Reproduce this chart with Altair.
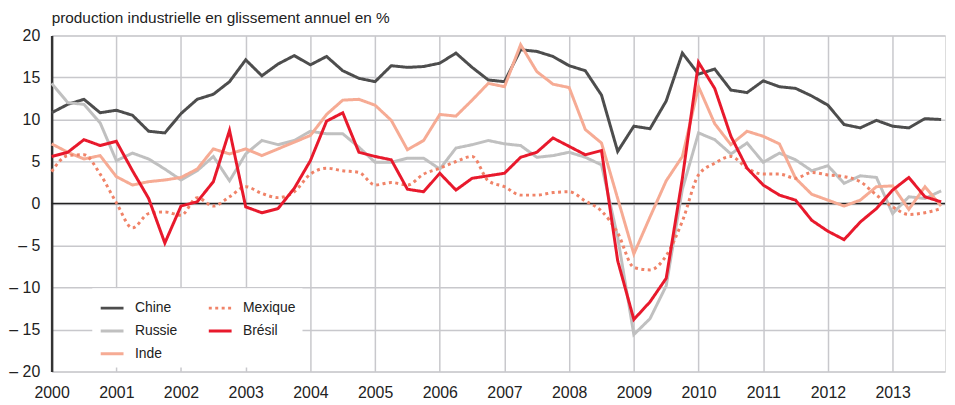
import altair as alt
import pandas as pd

quarters = [f"{y}T{q}" for y in range(2000, 2014) for q in range(1, 5)]

chine = [10.8, 11.8, 12.4, 10.8, 11.1, 10.5, 8.6, 8.4, 10.7, 12.4, 13.0, 14.5,
         17.1, 15.2, 16.6, 17.6, 16.5, 17.5, 15.8, 14.9, 14.5, 16.4, 16.2, 16.3,
         16.7, 17.9, 16.2, 14.7, 14.5, 18.3, 18.1, 17.5, 16.4, 15.8, 12.9, 6.2,
         9.2, 8.9, 12.2, 17.9, 15.4, 16.0, 13.5, 13.2, 14.6, 13.9, 13.7, 12.8,
         11.7, 9.4, 9.0, 9.9, 9.2, 9.0, 10.1, 10.0]
russie = [14.3, 12.0, 11.8, 9.6, 5.1, 6.0, 5.3, 4.1, 2.8, 3.9, 5.6, 2.7,
          5.9, 7.5, 7.0, 7.5, 8.6, 8.3, 8.3, 6.7, 4.9, 4.9, 5.4, 5.4,
          4.1, 6.6, 7.0, 7.5, 7.1, 6.9, 5.5, 5.7, 6.1, 5.5, 4.6, -4.0,
          -15.6, -13.7, -9.8, 1.7, 8.4, 7.6, 5.9, 7.2, 4.9, 6.0, 5.2, 3.9,
          4.5, 2.4, 3.3, 3.1, -1.2, 0.8, 0.6, 1.5]
inde = [7.1, 6.1, 5.3, 5.7, 3.2, 2.2, 2.6, 2.8, 3.1, 4.1, 6.5, 5.9,
        6.5, 5.7, 6.5, 7.3, 8.1, 10.6, 12.3, 12.4, 11.7, 9.9, 6.4, 7.5,
        10.6, 10.4, 12.3, 14.3, 13.9, 18.9, 15.7, 14.2, 13.8, 8.8, 7.2, 0.6,
        -6.0, -1.6, 2.7, 5.6, 13.9, 9.5, 7.0, 8.6, 8.0, 7.1, 3.0, 1.1,
        0.4, -0.3, 0.4, 2.0, 2.1, -0.7, 2.0, -0.3]
mexique = [3.8, 5.7, 5.8, 3.5, 0.1, -2.9, -1.2, -1.0, -1.4, 0.7, -0.3, 0.8,
           2.0, 1.2, 0.7, 1.4, 3.5, 4.2, 3.9, 3.7, 2.2, 2.5, 2.2, 3.5,
           4.2, 5.0, 5.6, 2.7, 2.0, 1.0, 1.0, 1.3, 1.4, 0.3, -0.9, -3.5,
           -7.6, -7.9, -6.2, -2.1, 3.4, 4.8, 5.6, 4.2, 3.5, 3.5, 3.0, 3.7,
           3.4, 3.2, 2.6, 1.0, -0.4, -1.3, -1.1, -0.6]
bresil = [5.6, 6.1, 7.6, 6.9, 7.4, 3.9, 0.6, -4.7, -0.3, 0.2, 2.6, 8.7,
          -0.4, -1.1, -0.6, 1.8, 5.1, 9.8, 10.8, 6.1, 5.6, 5.2, 1.7, 1.4,
          3.6, 1.6, 3.0, 3.3, 3.6, 5.5, 6.1, 7.8, 6.8, 5.8, 6.3, -6.8,
          -13.8, -11.7, -8.9, 3.0, 16.8, 13.7, 8.0, 4.2, 2.2, 1.0, 0.4, -2.0,
          -3.3, -4.3, -2.2, -0.6, 1.6, 3.1, 0.8, 0.2]

series = {"Chine": chine, "Russie": russie, "Inde": inde,
          "Mexique": mexique, "Brésil": bresil}

legend_order = ["Chine", "Russie", "Inde", "Mexique", "Brésil"]
colors = ["#4d4d4d", "#c0c0c0", "#f6ab94", "#f08368", "#e8192c"]
dashes = [[1, 0], [1, 0], [1, 0], [3, 3.5], [1, 0]]

FONT = "Liberation Sans, Arial, sans-serif"
GRID = "#c8c8cc"
TXT = "#222222"


def frame(name):
    rows = []
    for lab, v in zip(quarters, series[name]):
        yr, q = lab.split("T")
        rows.append({"pays": name, "t": int(yr) + (int(q) - 1) / 4, "v": v})
    return pd.DataFrame(rows)


x_enc = alt.X(
    "t:Q",
    scale=alt.Scale(domain=[2000, 2013.81], nice=False, zero=False),
    axis=alt.Axis(values=list(range(2000, 2014)), format="d", title=None,
                  grid=True, gridColor=GRID, gridWidth=1.5, domain=False,
                  ticks=False, labelPadding=13, labelFontSize=16,
                  labelFont=FONT, labelColor=TXT, labelFlush=False,
                  labelOverlap=False),
)
y_enc = alt.Y(
    "v:Q",
    scale=alt.Scale(domain=[-20, 20], nice=False, zero=False),
    axis=alt.Axis(values=list(range(-20, 21, 5)), title=None, grid=True,
                  gridColor=GRID, gridWidth=1.5, domain=True,
                  domainColor="#333333", domainWidth=2.5, ticks=False,
                  labelPadding=12, labelFontSize=16, labelFont=FONT,
                  labelColor=TXT, labelOverlap=False,
                  labelExpr="datum.value < 0 ? '\u2013 ' + abs(datum.value) : '' + datum.value"),
)

leg = alt.Legend(orient="none", legendX=41, legendY=255, columns=2, title=None,
                 symbolType="stroke", symbolSize=529, symbolStrokeWidth=3,
                 labelFont=FONT, labelFontSize=14, labelColor=TXT,
                 labelOffset=10, columnPadding=25, rowPadding=3,
                 fillColor="white", padding=7)

color = alt.Color("pays:N", scale=alt.Scale(domain=legend_order, range=colors),
                  legend=leg)
dash = alt.StrokeDash("pays:N", scale=alt.Scale(domain=legend_order, range=dashes),
                      legend=leg)

zero = alt.Chart(pd.DataFrame({"v": [0]})).mark_rule(
    color="#222222", strokeWidth=1.5).encode(y=y_enc)

layers = [zero]
for name in ["Chine", "Russie", "Inde", "Mexique", "Brésil"]:
    interp = "monotone" if name == "Mexique" else "linear"
    layers.append(
        alt.Chart(frame(name)).mark_line(strokeWidth=3, interpolate=interp)
        .encode(x=x_enc, y=y_enc, color=color, strokeDash=dash)
    )

chart = alt.layer(*layers).properties(
    width=901, height=339,
    title=alt.TitleParams(
        "production industrielle en glissement annuel en %",
        anchor="start", frame="group", font=FONT, fontSize=15.5,
        fontWeight="normal", color=TXT, offset=1),
    padding={"left": 44, "top": 26, "right": 2, "bottom": 30},
    autosize=alt.AutoSizeParams(type="none"),
).configure_view(stroke=None).configure(background="white")

chart.save("out.html", embed_options={"renderer": "svg", "actions": False})
